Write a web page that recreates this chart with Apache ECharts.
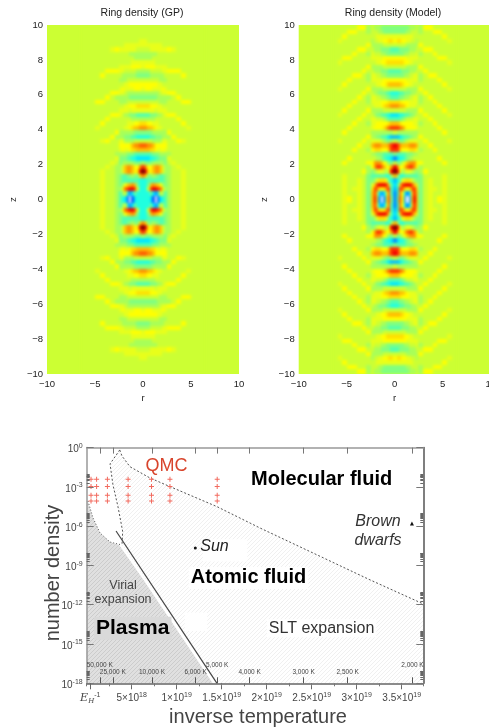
<!DOCTYPE html>
<html><head><meta charset="utf-8">
<style>html,body{margin:0;padding:0;background:#fff;overflow:hidden}#c{width:489px;height:728px}</style>
<script src="https://cdn.jsdelivr.net/npm/echarts@6/dist/echarts.min.js"></script>
</head><body><div id="c"></div>
<script>
// ---- ring density panels: one quadrant (r>=0, z>=0), levels -10..10
const rEdges = [0,.25,.5,.75,1,1.25,1.5,1.75,2,2.25,2.5,3,3.5,4,4.5,5,5.5,6,6.5];
const zStep = 0.25;
const gpDensity = [
[-4,-4,-4,-5,-8,-10,-8,-5,-4,-3,-1,0,0,1,0,0,0,0],
[-4,-4,-4,-2,-5,-7,-5,0,-1,-3,-1,0,0,1,0,0,0,0],
[-4,-4,1,7,8,8,7,6,2,-1,-1,0,0,1,0,0,0,0],
[-4,-4,-2,4,5,4,4,2,-1,-2,-1,0,0,1,0,0,0,0],
[-4,-4,-3,-3,-3,-3,-3,-3,-3,-2,-1,0,0,1,0,0,0,0],
[5,3,-2,-2,-1,-2,-2,-3,-3,-2,-1,0,0,1,0,0,0,0],
[10,8,3,2,4,5,5,4,1,-1,-1,0,0,1,0,0,0,0],
[7,5,2,2,4,5,5,4,1,-1,-1,0,1,0,0,0,0,0],
[-1,-2,-2,-2,-1,-1,-1,-1,-1,-2,0,1,0,0,0,0,0,0],
[-5,-5,-5,-4,-4,-3,-3,-2,-2,-2,1,0,0,0,0,0,0,0],
[-3,-3,-3,-3,-2,-2,-2,-1,-1,-1,-1,0,0,0,0,0,0,0],
[4,4,4,3,3,2,1,1,2,1,0,0,0,0,0,0,0,0],
[6,6,5,5,4,2,2,2,2,2,0,0,0,0,0,0,0,0],
[0,0,0,0,-1,-1,-1,-1,1,1,0,0,2,1,0,0,0,0],
[-4,-4,-4,-3,-3,-2,-2,-2,-1,-1,-1,2,0,0,0,0,0,0],
[-2,-2,-2,-2,-1,-1,-1,-1,-1,-1,2,0,0,0,0,0,0,0],
[5,5,4,4,3,2,1,1,0,0,0,0,0,0,1,0,0,0],
[3,3,2,2,1,1,1,0,0,0,0,0,0,2,0,0,0,0],
[-1,-1,-1,-1,-1,0,0,0,0,0,0,0,2,0,0,0,0,0],
[-3,-3,-3,-2,-2,-2,-1,-1,0,1,2,2,0,0,0,0,0,0],
[1,1,1,1,1,0,1,1,1,1,0,0,0,0,0,0,0,0],
[3,3,3,2,2,2,1,1,0,0,0,0,0,0,0,0,0,0],
[0,0,0,0,0,0,0,-1,-1,-1,0,0,0,2,2,0,0,0],
[-2,-2,-2,-2,-2,-2,-1,-1,-1,-1,-1,0,2,0,0,0,0,0],
[-1,-1,-1,-1,-1,-1,-1,0,1,1,2,2,0,0,0,0,0,0],
[1,2,2,2,1,1,1,1,2,1,0,0,0,0,0,0,0,0],
[2,2,2,2,2,2,1,1,0,0,0,0,0,0,0,0,0,0],
[0,0,0,0,0,0,0,-1,-1,-1,0,0,0,0,0,0,0,0],
[-2,-2,-2,-1,-1,-1,-1,-1,-1,0,0,0,0,2,0,0,0,0],
[-1,-1,-1,0,0,0,0,0,1,1,2,2,2,0,0,0,0,0],
[1,2,2,2,2,1,1,1,1,1,0,0,0,0,0,0,0,0],
[1,1,1,1,1,0,0,0,0,0,0,0,0,0,0,0,0,0],
[-1,-1,-1,-1,0,0,0,0,0,0,0,0,0,0,0,0,0,0],
[-1,-1,-1,-1,-1,-1,0,0,0,0,0,0,0,0,0,0,0,0],
[0,0,0,1,1,1,1,1,1,1,2,1,0,0,0,0,0,0],
[1,1,1,1,1,1,1,1,0,0,0,0,0,0,0,0,0,0],
[1,1,0,0,0,0,0,0,0,0,0,0,0,0,0,0,0,0],
[0,0,0,0,0,0,0,0,0,0,0,0,0,0,0,0,0,0],
[0,0,0,0,0,0,0,0,0,0,0,0,0,0,0,0,0,0],
[0,0,0,0,0,0,0,0,0,0,0,0,0,0,0,0,0,0]
];
const modelDensity = [
[-7,-2,7,2,-7,-10,-7,3,8,4,-2,0,1,0,2,1,0,0],
[-7,-3,6,2,-5,-7,-5,3,7,4,-2,0,1,0,0,1,0,0],
[-6,-3,7,6,3,2,3,6,7,3,-2,0,1,1,0,1,0,0],
[-5,-3,3,7,8,8,8,7,4,1,-2,0,1,0,0,1,0,0],
[-6,-4,-3,1,3,3,3,1,-1,-2,-2,0,1,0,0,1,0,0],
[4,-1,-4,-4,-3,-3,-3,-3,-3,-3,-2,0,0,0,0,1,0,0],
[10,8,2,-1,0,1,1,0,-1,-2,-1,2,0,0,0,0,0,0],
[8,5,2,2,4,6,7,7,5,2,-1,0,0,0,0,0,0,0],
[0,-2,-2,0,2,4,5,5,5,2,2,0,0,0,0,2,0,0],
[-7,-5,-4,-4,-3,-2,-1,-1,0,0,0,0,0,0,2,0,0,0],
[-2,-3,-3,-3,-3,-2,-2,-2,-1,-1,0,0,0,0,0,0,0,0],
[7,7,4,2,2,2,3,3,3,2,-1,0,0,2,0,0,0,0],
[8,7,5,4,4,4,5,5,5,4,0,0,2,0,0,0,0,0],
[0,-1,-2,-2,-1,0,1,1,1,1,0,2,0,0,0,0,1,0],
[-6,-6,-5,-4,-3,-3,-2,-2,-1,-1,2,0,0,0,0,0,0,0],
[0,-1,-1,-1,-1,-1,-1,-1,-1,-1,0,0,0,0,0,2,0,0],
[7,7,6,5,3,2,2,2,2,1,0,0,0,0,2,0,0,0],
[4,4,3,2,2,2,2,2,1,1,-1,0,0,2,0,0,0,0],
[-3,-3,-3,-2,-1,0,0,0,1,1,0,0,2,0,0,0,0,0],
[-5,-5,-4,-4,-3,-3,-2,-2,-1,0,0,2,0,0,0,0,1,0],
[0,0,0,0,0,-1,-1,-1,-1,-1,2,0,0,0,0,2,0,0],
[5,5,4,4,3,2,1,1,1,0,0,0,0,0,2,0,0,0],
[3,3,3,2,2,2,1,1,1,1,-1,0,0,2,0,0,0,0],
[-3,-3,-2,-2,-1,-1,0,0,1,1,-1,0,2,0,0,0,0,0],
[-4,-4,-3,-3,-2,-2,-2,-1,-1,0,0,2,0,0,0,0,0,0],
[0,0,0,0,0,-1,-1,-1,-1,-1,2,0,0,0,0,0,1,0],
[4,4,4,3,2,2,1,1,0,0,0,0,0,0,0,2,0,0],
[2,2,2,2,2,1,1,1,1,1,-1,0,0,0,2,0,0,0],
[-2,-2,-2,-2,-1,-1,0,0,1,1,-1,0,2,2,0,0,0,0],
[-3,-3,-3,-2,-2,-2,-1,-1,-1,0,0,2,0,0,0,0,0,0],
[0,0,0,0,0,-1,-1,-1,-1,-1,2,0,0,0,0,0,0,0],
[3,3,3,3,2,2,1,1,0,0,0,0,0,0,0,0,1,0],
[2,2,2,2,2,1,1,1,1,1,0,0,0,0,2,2,0,0],
[-2,-2,-2,-2,-1,-1,0,0,0,1,-1,0,0,2,0,0,0,0],
[-3,-3,-2,-2,-2,-2,-1,-1,-1,0,0,2,2,0,0,0,0,0],
[0,0,0,0,0,-1,-1,-1,-1,-1,2,0,0,0,0,0,0,0],
[2,3,3,2,2,1,1,0,0,-1,0,0,0,0,0,0,1,0],
[1,1,1,1,1,1,1,1,0,0,0,0,0,0,0,2,0,0],
[-2,-2,-2,-2,-2,-1,-1,0,0,0,-1,0,0,2,2,0,0,0],
[-2,-2,-2,-2,-2,-2,-1,-1,-1,0,-1,2,2,0,0,0,0,0]
];
const levelColors = ['#ffffff','#1040ff','#0050ff','#0090ff','#00c0ff','#00e8ff','#20ffe0','#50ffb0','#80ff80','#a8ff58','#ccff33','#e8ff1a','#ffff00','#ffe000','#ffc000','#ff9000','#ff6000','#ff3000','#f00000','#b80000','#800000'];

// ---- phase diagram: x in units of 1e18, y = log10(number density)
const xTickValues = [0.4,5,10,15,20,25,30,35];
const xTickLabels = ['{i|E}{h|H}{s|-1}','5×10{s|18}','1×10{s|19}','1.5×10{s|19}','2×10{s|19}','2.5×10{s|19}','3×10{s|19}','3.5×10{s|19}'];
const yMajor = [-18,-15,-12,-9,-6,-3];
const yMinorMantissa = [0.301,0.477,0.602,0.699,0.778,0.845,0.903,0.954];
const tempK = ['50,000 K','25,000 K','10,000 K','6,000 K','5,000 K','4,000 K','3,000 K','2,500 K','2,000 K'];
const tempX = [1.45,2.9,7.25,12.1,14.5,18.1,24.1,29,36.2];
const tempY = [-16.65,-17.13,-17.13,-17.13,-16.65,-17.13,-17.13,-17.13,-16.65];
const qmcX = [0.48,1.1,2.3,4.6,7.2,9.25,14.5];
const qmcY = [-2.42,-2.98,-3.64,-4.07];
const moleculeEdge = [[3.67,-.18],[3.92,-.64],[4.81,-1.46],[7.03,-2.32],[9.26,-2.98],[14.48,-4.51],[19.26,-6.14],[31.48,-10.1],[37.4,-11.94]];
const dissociationEdge = [[3.67,-.18],[2.59,-1.25],[2.92,-2.85],[3.48,-4.53],[4.0,-6.42],[3.92,-7.44]];
const plasmaEdge = [[.14,-4.08],[.7,-5.37],[1.48,-6.52],[2.59,-7.21],[3.92,-7.44]];
const ionEdge = [[3.26,-6.37],[14.48,-18]];
const plasmaRegion = [[.1,-4.08],[.7,-5.37],[1.48,-6.52],[2.59,-7.21],[3.6,-7.44],[6.29,-10.1],[14,-18],[0,-18],[0,-4.08]];
const atomicRegion = moleculeEdge.concat([[37.4,-18],[14.48,-18],[3.92,-7.44]]).concat(dissociationEdge.slice(1,5).reverse());
const blankPatches = [
  [[10.9,-12.6],[13.4,-12.6],[13.4,-14],[10.9,-14]],
  [[12.9,-7.0],[17.85,-7.0],[17.85,-8.7],[12.9,-8.7]]
];
const annotations = [
 {t:'QMC',x:8.87,y:-1.40,s:{fontSize:18,color:'#d8442c'}},
 {t:'Molecular fluid',x:26.1,y:-2.47,s:{fontSize:20,fontWeight:'bold',color:'#000'}},
 {t:'Sun',x:14.2,y:-7.59,s:{fontSize:16,fontStyle:'italic',color:'#222'}},
 {t:'Brown',x:32.37,y:-5.68,s:{fontSize:16,fontStyle:'italic',color:'#333'}},
 {t:'dwarfs',x:32.37,y:-7.13,s:{fontSize:16,fontStyle:'italic',color:'#333'}},
 {t:'Atomic fluid',x:17.98,y:-9.95,s:{fontSize:20,fontWeight:'bold',color:'#000',backgroundColor:'#fff',padding:[1,2]}},
 {t:'Virial',x:4.04,y:-10.5,s:{fontSize:12.5,color:'#444'}},
 {t:'expansion',x:4.04,y:-11.63,s:{fontSize:12.5,color:'#444'}},
 {t:'Plasma',x:5.11,y:-13.8,s:{fontSize:21,fontWeight:'bold',color:'#000',backgroundColor:'#d9d9d9',padding:[1,2]}},
 {t:'SLT expansion',x:26.1,y:-13.8,s:{fontSize:16,color:'#333',backgroundColor:'#fff',padding:[1,2]}}
];
const sunPoint = [12.07,-7.66];
const brownPoint = [36.14,-5.79];

const FONT = '"Liberation Sans",Arial,sans-serif';

function hatch(bg, line){
  const c = document.createElement('canvas'); c.width = 4; c.height = 4;
  const g = c.getContext('2d');
  g.fillStyle = bg; g.fillRect(0,0,4,4);
  g.strokeStyle = line; g.lineWidth = 1;
  g.beginPath(); g.moveTo(-1,1); g.lineTo(1,-1); g.moveTo(0,4); g.lineTo(4,0); g.moveTo(3,5); g.lineTo(5,3); g.stroke();
  return {image:c, repeat:'repeat'};
}
function quadrants(grid){
  const out = [];
  grid.forEach((row,iz)=>{
    const z = (iz+.5)*zStep;
    row.forEach((v,ir)=>{
      const w = rEdges[ir+1]-rEdges[ir], r = rEdges[ir]+w/2;
      [-1,1].forEach(sr=>[-1,1].forEach(sz=>out.push([sr*r,sz*z,v,w,zStep])));
    });
  });
  return out;
}
function heatRender(params, api){
  const a = api.coord([api.value(0)-api.value(3)/2, api.value(1)+api.value(4)/2]);
  const b = api.coord([api.value(0)+api.value(3)/2, api.value(1)-api.value(4)/2]);
  const x = Math.floor(a[0]), y = Math.floor(a[1]);
  return {type:'rect',shape:{x:x,y:y,width:Math.ceil(b[0])-x,height:Math.ceil(b[1])-y},style:{fill:api.visual('color')}};
}
function polyRender(fill){
  return function(params, api){
    if(params.dataIndex!==0) return null;
    const n = params.dataInsideLength, pts=[];
    for(let i=0;i<n;i++) pts.push(api.coord([api.value(0,i),api.value(1,i)]));
    return {type:'polygon',shape:{points:pts},style:{fill:fill}};
  };
}
function panelAxes(gridIndex){
  const ls = {color:'#222',fontSize:9.5,fontFamily:FONT};
  const fmt = v=>String(v).replace('-','\u2212');
  return {
    x:{type:'value',gridIndex,min:-10,max:10,interval:5,position:'bottom',name:'r',nameLocation:'middle',nameGap:19,nameTextStyle:ls,
       splitLine:{show:false},axisLine:{show:false,onZero:false},axisTick:{show:false},axisLabel:Object.assign({formatter:fmt,margin:5,showMinLabel:true,showMaxLabel:true},ls)},
    y:{type:'value',gridIndex,min:-10,max:10,interval:2,position:'left',name:'z',nameLocation:'middle',nameGap:29,nameRotate:90,nameTextStyle:ls,
       splitLine:{show:false},axisLine:{show:false,onZero:false},axisTick:{show:false},axisLabel:Object.assign({formatter:fmt,margin:4},ls)}
  };
}
const p0 = panelAxes(0), p1 = panelAxes(1);
const noLabel = {show:false};
const yMinorValues = [];
yMajor.forEach(m=>yMinorMantissa.forEach(k=>yMinorValues.push(m+k)));
const yFmt = v=>'10{s|'+v+'}';
const tickText = {fontSize:10,color:'#444',fontFamily:FONT,rich:{
  s:{fontSize:7,color:'#444',padding:[0,0,7,0]},
  h:{fontSize:7,fontStyle:'italic',color:'#444',fontFamily:'"DejaVu Serif",serif',padding:[6,0,0,0]},
  i:{fontSize:11,fontStyle:'italic',color:'#444',fontFamily:'"DejaVu Serif",serif'}}};
const commonX = {type:'value',gridIndex:2,min:0,max:37.4,splitLine:{show:false},z:5};
const commonY = {type:'value',gridIndex:2,min:-18,max:0,interval:3,splitLine:{show:false},z:5};
const xAxes = [p0.x,p1.x,
  Object.assign({},commonX,{position:'bottom',axisLine:{show:true,onZero:false,lineStyle:{color:'#666',width:1.5}},axisTick:{show:true,length:6,customValues:xTickValues,lineStyle:{color:'#666'}},
    axisLabel:Object.assign({customValues:xTickValues,margin:8,formatter:v=>xTickLabels[xTickValues.indexOf(v)]||''},tickText)}),
  Object.assign({},commonX,{position:'top',axisLine:{show:true,onZero:false,lineStyle:{color:'#999',width:1.5}},axisTick:{show:true,inside:true,length:6,customValues:tempX,lineStyle:{color:'#777'}},axisLabel:noLabel}),
  Object.assign({},commonX,{position:'bottom',axisLine:{show:false,onZero:false},axisTick:{show:true,inside:true,length:6,customValues:tempX,lineStyle:{color:'#555'}},axisLabel:noLabel}),
  Object.assign({},commonX,{position:'bottom',interval:2.5,axisLine:{show:false,onZero:false},axisTick:{show:true,length:3,lineStyle:{color:'#777'}},axisLabel:noLabel})
];
const yAxes = [p0.y,p1.y,
  Object.assign({},commonY,{position:'left',axisLine:{show:true,onZero:false,lineStyle:{color:'#999',width:1.5}},axisTick:{show:true,inside:true,length:7,lineStyle:{color:'#777'}},
    axisLabel:Object.assign({margin:4,padding:[4,0,0,0],formatter:v=>yFmt(v)},tickText)}),
  Object.assign({},commonY,{position:'left',axisLine:{show:false,onZero:false},axisTick:{show:true,inside:true,length:3,customValues:yMinorValues,lineStyle:{color:'#666',width:1}},axisLabel:noLabel}),
  Object.assign({},commonY,{position:'right',axisLine:{show:true,onZero:false,lineStyle:{color:'#555',width:1.5}},axisTick:{show:true,inside:true,length:7,lineStyle:{color:'#777'}},axisLabel:noLabel}),
  Object.assign({},commonY,{position:'right',axisLine:{show:false,onZero:false},axisTick:{show:true,inside:true,length:3,customValues:yMinorValues,lineStyle:{color:'#666',width:1}},axisLabel:noLabel})
];
const lineSeries = (data,style,z)=>({type:'line',xAxisIndex:2,yAxisIndex:2,data:data,symbol:'none',lineStyle:style,z:z||4,silent:true,clip:false});
const qmcData = [];
qmcX.forEach(x=>qmcY.forEach(y=>qmcData.push([x,y])));
const solid = c=>({color:c,opacity:1});
const series = [
  {type:'custom',xAxisIndex:0,yAxisIndex:0,data:quadrants(gpDensity),renderItem:heatRender,encode:{x:0,y:1},silent:true,zlevel:1},
  {type:'custom',xAxisIndex:1,yAxisIndex:1,data:quadrants(modelDensity),renderItem:heatRender,encode:{x:0,y:1},silent:true,zlevel:1},
  {type:'custom',xAxisIndex:2,yAxisIndex:2,data:atomicRegion,renderItem:polyRender(hatch('#ffffff','#f0f0f0')),encode:{x:0,y:1},silent:true,z:1},
  {type:'custom',xAxisIndex:2,yAxisIndex:2,data:plasmaRegion,renderItem:polyRender(hatch('#e0e0e0','#cccccc')),encode:{x:0,y:1},silent:true,z:1},
  {type:'custom',xAxisIndex:2,yAxisIndex:2,data:blankPatches[0],renderItem:polyRender('#ffffff'),encode:{x:0,y:1},silent:true,z:2},
  {type:'custom',xAxisIndex:2,yAxisIndex:2,data:blankPatches[1],renderItem:polyRender('#ffffff'),encode:{x:0,y:1},silent:true,z:2},
  lineSeries(moleculeEdge,{color:'#555',width:1,type:[2,2]}),
  lineSeries(dissociationEdge,{color:'#555',width:1,type:[2,2]}),
  lineSeries(plasmaEdge,{color:'#555',width:1,type:[1,2]}),
  lineSeries(ionEdge,{color:'#444',width:1.2}),
  {type:'scatter',xAxisIndex:2,yAxisIndex:2,data:qmcData,symbol:'path://M4 0H6V4H10V6H6V10H4V6H0V4H4Z',symbolSize:5,itemStyle:solid('#f26a5e'),silent:true,z:4},
  {type:'scatter',xAxisIndex:2,yAxisIndex:2,data:[sunPoint],symbol:'circle',symbolSize:3,itemStyle:solid('#111'),silent:true,z:6},
  {type:'scatter',xAxisIndex:2,yAxisIndex:2,data:[brownPoint],symbol:'triangle',symbolSize:4,itemStyle:solid('#111'),silent:true,z:6},
  {type:'scatter',xAxisIndex:2,yAxisIndex:2,symbolSize:0,silent:true,z:5,itemStyle:{opacity:1},
   data:annotations.map(a=>({value:[a.x,a.y],label:Object.assign({show:true,position:'inside',opacity:1,formatter:a.t,fontFamily:FONT},a.s)}))},
  {type:'scatter',xAxisIndex:2,yAxisIndex:2,symbolSize:0,silent:true,z:5,itemStyle:{opacity:1},
   data:tempK.map((t,i)=>({value:[tempX[i],tempY[i]],label:{show:true,position:'inside',opacity:1,formatter:t,fontFamily:FONT,fontSize:6.5,color:'#444'}}))}
];
const chart = echarts.init(document.getElementById('c'),null,{renderer:'canvas'});
const titleStyle = {fontSize:10.5,fontFamily:FONT,fill:'#222',textAlign:'center',textVerticalAlign:'middle'};
chart.setOption({
  animation:false,
  backgroundColor:'#fff',
  grid:[
    {left:47,top:25,width:192,height:349,show:true,backgroundColor:'#ccff33',borderWidth:0,outerBoundsMode:'none'},
    {left:298.7,top:25,width:192,height:349,show:true,backgroundColor:'#ccff33',borderWidth:0,outerBoundsMode:'none'},
    {left:86.7,top:447.6,width:336.6,height:235.7,outerBoundsMode:'none'}
  ],
  xAxis:xAxes,
  yAxis:yAxes,
  visualMap:{type:'continuous',show:false,min:-10,max:10,dimension:2,seriesIndex:[0,1],inRange:{color:levelColors}},
  graphic:[
    {type:'text',x:142,y:13,style:Object.assign({text:'Ring density (GP)'},titleStyle)},
    {type:'text',x:393,y:13,style:Object.assign({text:'Ring density (Model)'},titleStyle)},
    {type:'text',x:53,y:573,rotation:Math.PI/2,style:{text:'number density',fontSize:20,fontFamily:FONT,fill:'#444',textAlign:'center',textVerticalAlign:'middle'}},
    {type:'text',x:258,y:717,style:{text:'inverse temperature',fontSize:20,fontFamily:FONT,fill:'#444',textAlign:'center',textVerticalAlign:'middle'}}
  ],
  series:series
});
// the reference's maps are soft bitmaps: soften only the map layer, clipped to the two plot boxes
const heatLayer = document.querySelector('#c canvas[data-zr-dom-id="zr_1"]');
if(heatLayer){
  heatLayer.style.filter = 'blur(1.5px)';
  heatLayer.style.clipPath = "path('M47 25H239V374H47Z M298.7 25H491V374H298.7Z')";
}
</script></body></html>
